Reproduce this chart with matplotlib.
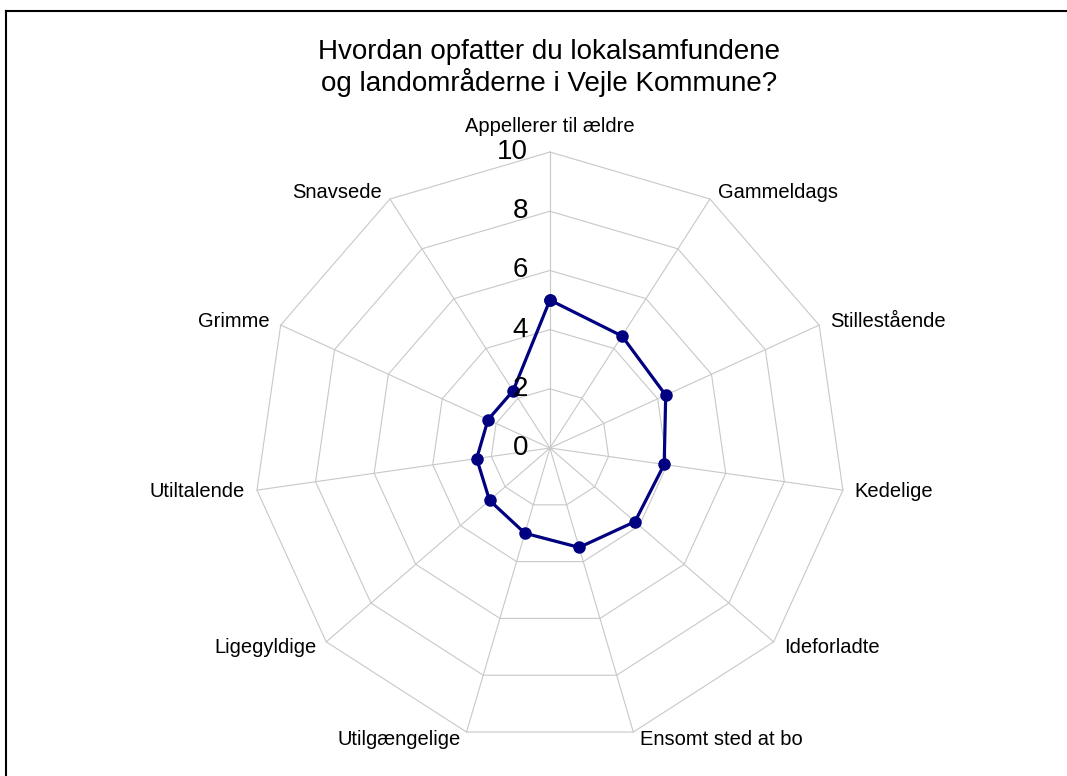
import numpy as np
import matplotlib
matplotlib.use("Agg")
import matplotlib.pyplot as plt
from matplotlib.lines import Line2D

categories = ["Appellerer til ældre", "Gammeldags", "Stillestående", "Kedelige",
              "Ideforladte", "Ensomt sted at bo", "Utilgængelige", "Ligegyldige",
              "Utiltalende", "Grimme", "Snavsede"]
values = [5.0, 4.5, 4.3, 3.9, 3.8, 3.5, 3.0, 2.7, 2.5, 2.3, 2.3]
r_ticks = [0, 2, 4, 6, 8, 10]
title = "Hvordan opfatter du lokalsamfundene\nog landområderne i Vejle Kommune?"

plt.rcParams['font.family'] = ['Liberation Sans', 'DejaVu Sans']

W, H = 1067, 776
fig = plt.figure(figsize=(W / 100, H / 100), dpi=100)
ax = fig.add_axes([0.2380, 0.0412, 0.5548, 0.7629], projection='polar')
ax.set_theta_zero_location('N')
ax.set_theta_direction(-1)
ax.set_ylim(0, 10)
ax.grid(False)
ax.spines['polar'].set_visible(False)
ax.set_xticks([])
ax.set_yticks([])
ax.patch.set_visible(False)

n = len(categories)
angles = np.arange(n) * 2 * np.pi / n
closed = np.append(angles, angles[0])

grid_color = '#c8c8c8'
for t in r_ticks[1:]:
    ax.plot(closed, [t] * (n + 1), color=grid_color, lw=0.8, clip_on=False, zorder=1)
for a in angles:
    ax.plot([a, a], [0, r_ticks[-1]], color=grid_color, lw=0.8, clip_on=False, zorder=1)

ax.plot(closed, values + [values[0]], color='#000080', lw=2.3, marker='o', ms=8,
        clip_on=False, zorder=3)

for t in r_ticks:
    ax.annotate(str(t), xy=(0, t), xytext=(-22, 0), textcoords='offset pixels',
                ha='right', va='center', fontsize=20, zorder=4)

for a, lab in zip(angles, categories):
    s, c = np.sin(a), np.cos(a)
    if abs(s) < 0.05:
        ha, va, dx, dy = 'center', 'bottom', 0, 16
    else:
        ha = 'left' if s > 0 else 'right'
        va = 'center'
        dx = np.sign(s) * (4 + 8 * abs(s))
        dy = 8 * c
    ax.annotate(lab, xy=(a, r_ticks[-1]), xytext=(dx, dy), textcoords='offset pixels',
                ha=ha, va=va, fontsize=14.5, annotation_clip=False)

fig.text(549 / W, 1 - 68 / H, title, ha='center', va='center', fontsize=20, linespacing=1.15)

fig.add_artist(Line2D([6 / W, 6 / W], [0, 1 - 11 / H], color='black', lw=1.5))
fig.add_artist(Line2D([6 / W, 1], [1 - 11 / H, 1 - 11 / H], color='black', lw=1.5))

fig.savefig("out.png", dpi=100)
